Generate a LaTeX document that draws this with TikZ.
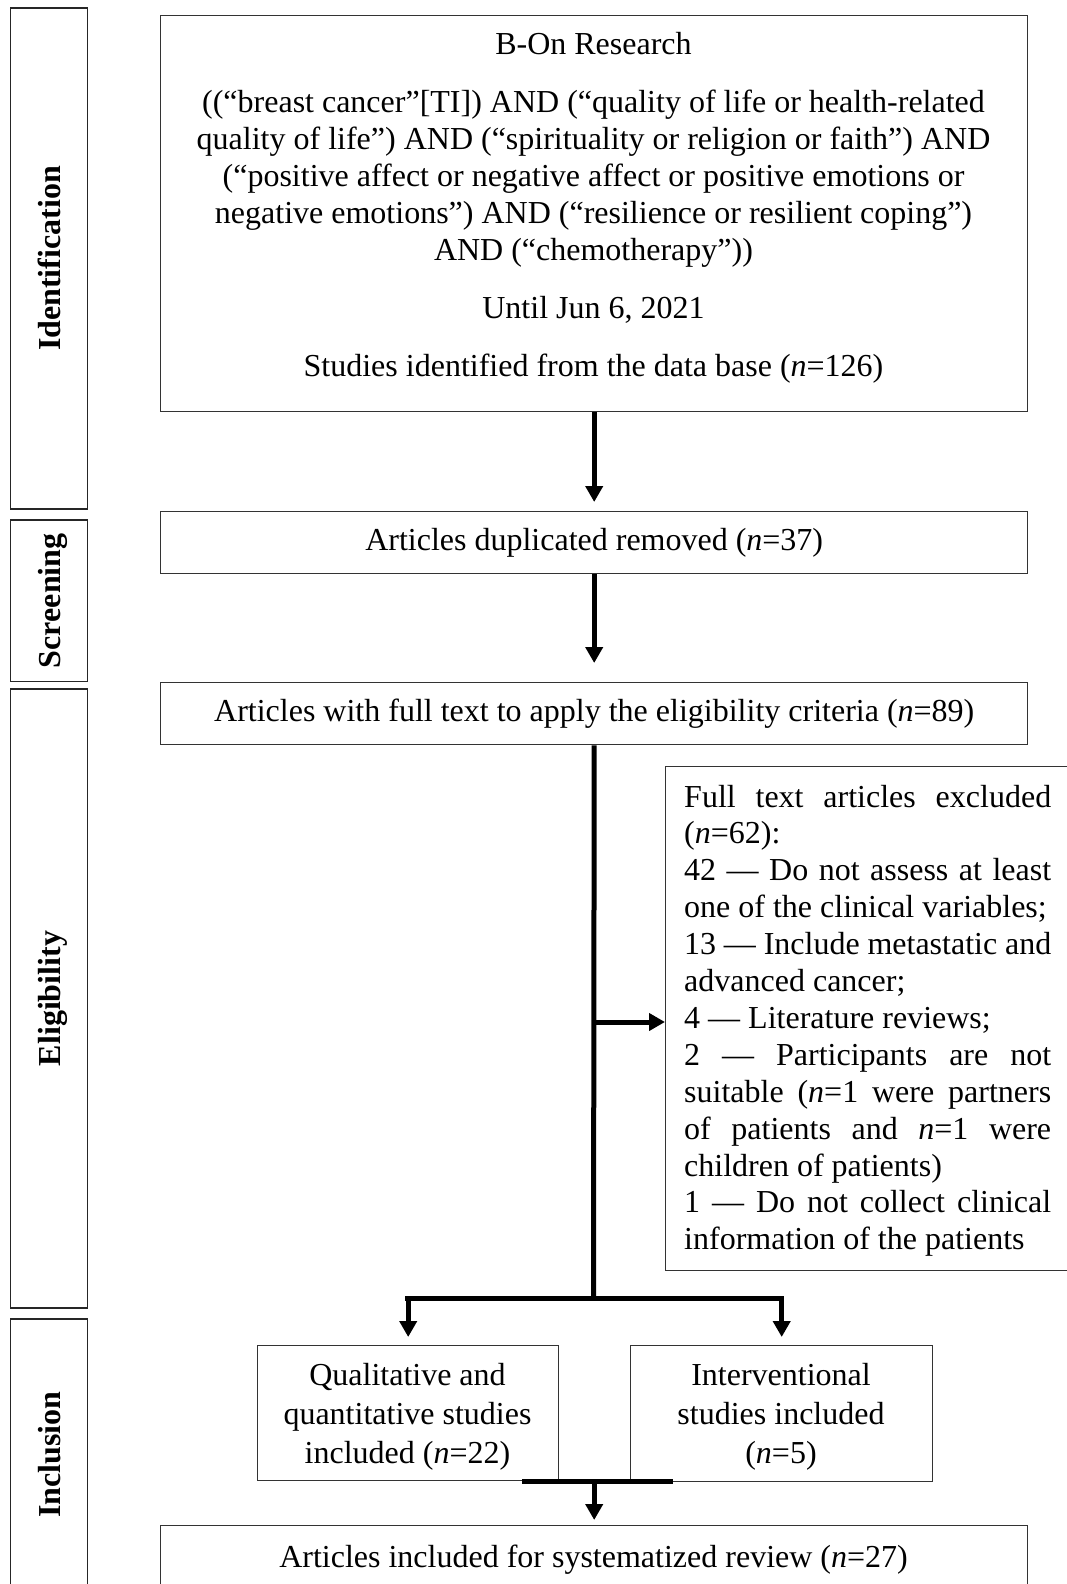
\documentclass[tikz,border=0pt]{standalone}
\usepackage{fontspec}
\setmainfont{Liberation Serif}
\usetikzlibrary{arrows.meta}
\begin{document}
\begin{tikzpicture}[x=1pt,y=-1pt,
  box/.style={draw=black!80, line width=1.4pt, rectangle, inner sep=0pt, anchor=north west,
              font=\fontsize{32}{36.9}\selectfont},
  side/.style={draw=black!85, line width=1.4pt, rectangle, inner sep=0pt, rotate=90,
               minimum height=77pt, font=\fontsize{32}{36.9}\selectfont\bfseries,
               text height=22pt, text depth=0pt},
  txt/.style={inner sep=0pt, font=\fontsize{32}{36.9}\selectfont},
  conn/.style={line width=5pt, -{Triangle[length=16pt,width=17pt]}},
  ln/.style={line width=5pt},
  bar/.style={line width=5.5pt, line cap=rect},
]
\useasboundingbox (0,0) rectangle (1067,1584);

% phase labels
\node[side, minimum width=501pt] (sid) at (49,258.5) {Identification};
\node[side, minimum width=161.5pt] (ssc) at (49,600.75) {Screening};
\node[side, minimum width=619pt] (sel) at (49,998.5) {Eligibility};
\node[side, minimum width=271pt] (sin) at (49,1454.5) {Inclusion};

% boxes
\node[box, minimum width=867pt, minimum height=396pt] (top) at (160,15) {};
\node[txt, anchor=base] (toptxt) at (593.5,55) {\parbox[t]{860pt}{\centering
  B-On Research\\[21.1pt]
  ((“breast cancer”[TI]) AND (“quality of life or health-related\\
  quality of life”) AND (“spirituality or religion or faith”) AND\\
  (“positive affect or negative affect or positive emotions or\\
  negative emotions”) AND (“resilience or resilient coping”)\\
  AND (“chemotherapy”))\\[21.1pt]
  Until Jun 6, 2021\\[21.1pt]
  Studies identified from the data base (\textit{n}=126)}};

\node[box, minimum width=867pt, minimum height=62pt] (scr) at (160,511)
  {Articles duplicated removed (\textit{n}=37)};
\node[box, minimum width=867pt, minimum height=62pt] (elig) at (160,682)
  {Articles with full text to apply the eligibility criteria (\textit{n}=89)};

\node[box, minimum width=425pt, minimum height=504pt] (excl) at (665,766) {};
\node[txt, anchor=base west] (excltxt) at (684,807) {\begin{minipage}[t]{367pt}%
  \tolerance=10000 \hyphenpenalty=10000 \hbadness=10000
  Full text articles excluded\linebreak
  (\textit{n}=62):\\
  42 — Do not assess at least\linebreak
  one of the clinical variables;\\
  13 — Include metastatic and\linebreak
  advanced cancer;\\
  4 — Literature reviews;\\
  2 — Participants are not\linebreak
  suitable (\textit{n}=1 were partners\linebreak
  of patients and \textit{n}=1 were\linebreak
  children of patients)\\
  1 — Do not collect clinical\linebreak
  information of the patients
\end{minipage}};

\node[box, minimum width=301pt, minimum height=135pt] (qual) at (257,1345) {};
\node[txt, anchor=base] (qualtxt) at (407.5,1385) {\parbox[t]{300pt}{\centering
  \fontsize{32}{39}\selectfont
  Qualitative and\\ quantitative studies\\ included (\textit{n}=22)}};
\node[box, minimum width=302pt, minimum height=136pt] (intv) at (630,1345) {};
\node[txt, anchor=base] (intvtxt) at (781,1385) {\parbox[t]{300pt}{\centering
  \fontsize{32}{39}\selectfont
  Interventional\\ studies included\\ (\textit{n}=5)}};

\node[box, minimum width=867pt, minimum height=95pt] (fin) at (160,1525) {};
\node[txt, anchor=base] (fintxt) at (593.5,1567)
  {Articles included for systematized review (\textit{n}=27)};

% connectors
\draw[conn, shorten >=9pt] (top.south) -- (scr.north);
\draw[conn, shorten >=19pt] (scr.south) -- (elig.north);

\coordinate (j1) at (593.5,1298.5);
\coordinate (bl) at (qual.north |- j1);
\coordinate (br) at (intv.north |- j1);
\coordinate (eb) at (593.5,1022);
\draw[ln] (elig.south) -- (j1);
\draw[conn] (eb) -- (eb -| excl.west);
\draw[bar] (bl) -- (br);
\draw[conn, shorten >=8pt] (bl) -- (qual.north);
\draw[conn, shorten >=8pt] (br) -- (intv.north);

\coordinate (b2l) at (522,1481.5);
\coordinate (b2r) at (672.5,1481.5);
\coordinate (b2c) at (fin.north |- b2l);
\draw[line width=5pt] (b2l) -- (b2r);
\draw[conn, shorten >=5pt] (b2c) -- (fin.north);
\end{tikzpicture}
\end{document}
